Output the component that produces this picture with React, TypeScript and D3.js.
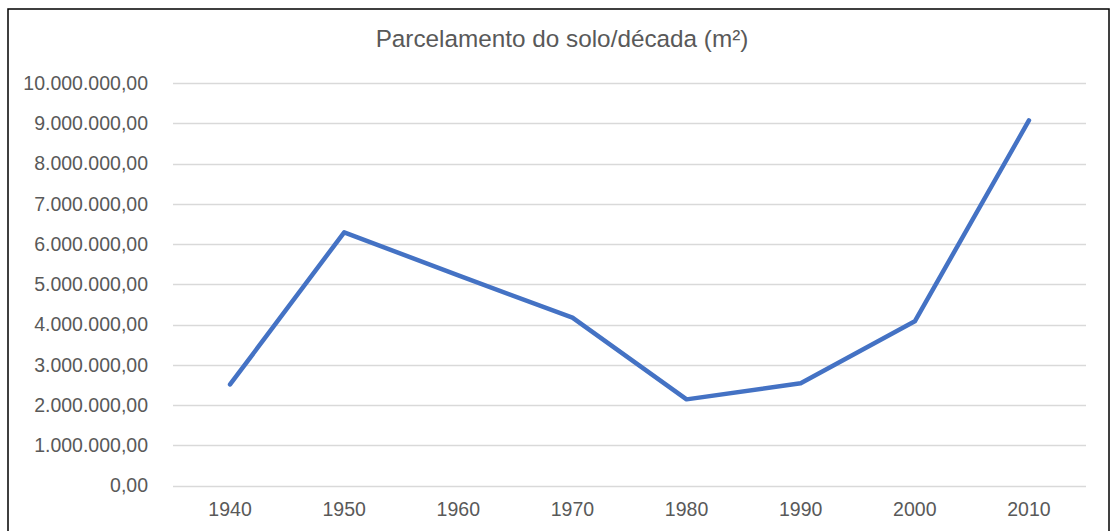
import React, { useEffect, useRef } from 'react';
import * as d3 from 'd3';

const decades = ['1940', '1950', '1960', '1970', '1980', '1990', '2000', '2010'];
const area = [2510000, 6290000, 5220000, 4170000, 2140000, 2540000, 4080000, 9070000];
const yTicks = [0, 1e6, 2e6, 3e6, 4e6, 5e6, 6e6, 7e6, 8e6, 9e6, 10e6];

const W = 1113;
const H = 531;

const fmt = (v: number) => {
  const s = Math.round(v).toString().replace(/\B(?=(\d{3})+(?!\d))/g, '.');
  return s + ',00';
};

const App: React.FC = () => {
  const svgRef = useRef<SVGSVGElement>(null);

  useEffect(() => {
    if (!svgRef.current) return;
    const svg = d3.select(svgRef.current);
    svg.selectAll('*').remove();

    const left = 173, right = 1086, top = 83, bottom = 485.5;
    const x = d3.scaleBand<string>().domain(decades).range([left, right]);
    const y = d3.scaleLinear().domain([0, 10e6]).range([bottom, top]);

    // frame
    svg.append('rect')
      .attr('x', 8).attr('y', 9).attr('width', 1101).attr('height', 540)
      .attr('fill', '#fff').attr('stroke', '#000').attr('stroke-width', 1.5);

    svg.append('text')
      .attr('x', 562).attr('y', 47)
      .attr('text-anchor', 'middle')
      .attr('fill', '#595959')
      .attr('font-size', '24.3px')
      .text('Parcelamento do solo/década (m²)');

    const grid = svg.append('g');
    grid.selectAll('line').data(yTicks).enter().append('line')
      .attr('x1', left).attr('x2', right)
      .attr('y1', d => Math.round(y(d)) + 0.5).attr('y2', d => Math.round(y(d)) + 0.5)
      .attr('stroke', '#d9d9d9').attr('stroke-width', 1.3);

    svg.append('g').selectAll('text').data(yTicks).enter().append('text')
      .attr('x', 148).attr('y', d => y(d))
      .attr('dy', '0.35em')
      .attr('text-anchor', 'end')
      .attr('fill', '#595959')
      .attr('font-size', '19.5px')
      .text(d => fmt(d));

    svg.append('g').selectAll('text').data(decades).enter().append('text')
      .attr('x', d => (x(d) ?? 0) + x.bandwidth() / 2).attr('y', 516)
      .attr('text-anchor', 'middle')
      .attr('fill', '#595959')
      .attr('font-size', '19.5px')
      .text(d => d);

    const line = d3.line<number>()
      .x((_, i) => (x(decades[i]) ?? 0) + x.bandwidth() / 2)
      .y(d => y(d));

    svg.append('path')
      .datum(area)
      .attr('d', line)
      .attr('fill', 'none')
      .attr('stroke', '#4472c4')
      .attr('stroke-width', 4.5)
      .attr('stroke-linejoin', 'round')
      .attr('stroke-linecap', 'round');
  }, []);

  return (
    <div style={{ position: 'absolute', left: 0, top: 0 }}>
      <svg ref={svgRef} width={W} height={H} style={{ display: 'block', fontFamily: 'Arial, "Liberation Sans", sans-serif' }} />
    </div>
  );
};

export default App;
